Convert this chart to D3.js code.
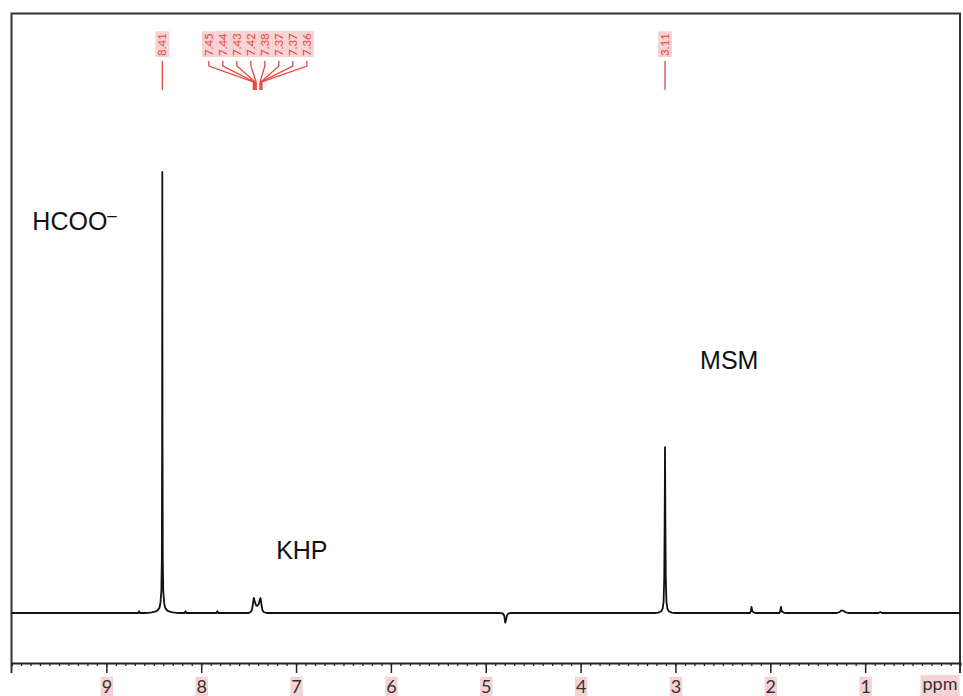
<!DOCTYPE html>
<html>
<head>
<meta charset="utf-8">
<script src="https://cdn.jsdelivr.net/npm/d3@7"></script>
<style>
  body { margin: 0; background: #fff; }
  svg { display: block; }
</style>
</head>
<body>
<svg id="chart" width="963" height="696"></svg>
<script>
// spectrum trace, [ppm, intensity] (8.41 peak = 100)
var spectrum = [
  [10, 0], [8.70, 0], [8.665, 0], [8.655, 0.4], [8.645, 0], [8.60, 0], [8.56, 0.05], [8.52, 0.15],
  [8.48, 0.35], [8.46, 0.6], [8.44, 1.2], [8.43, 2.2], [8.42, 5], [8.415, 12], [8.412, 40],
  [8.41, 100], [8.408, 40], [8.405, 12], [8.40, 5], [8.39, 2.2], [8.38, 1.2], [8.36, 0.6],
  [8.34, 0.35], [8.30, 0.15], [8.26, 0.05], [8.22, 0], [8.175, 0], [8.165, 0.4], [8.155, 0],
  [7.84, 0], [7.83, 0.4], [7.82, 0], [7.50, 0], [7.48, 0.2], [7.465, 0.7], [7.455, 2.0],
  [7.445, 3.4], [7.435, 2.6], [7.42, 1.7], [7.41, 1.6], [7.395, 1.9], [7.385, 2.8], [7.375, 3.4],
  [7.365, 2.0], [7.355, 0.7], [7.34, 0.2], [7.31, 0], [4.86, 0], [4.82, -0.1], [4.805, -0.6],
  [4.795, -2.2], [4.785, -1.4], [4.775, -0.5], [4.76, -0.1], [4.73, 0], [3.22, 0], [3.18, 0.1],
  [3.15, 0.4], [3.135, 1.0], [3.125, 2.5], [3.118, 8], [3.114, 20], [3.112, 28], [3.11, 37.6],
  [3.108, 28], [3.106, 20], [3.102, 8], [3.095, 2.5], [3.085, 1.0], [3.07, 0.4], [3.04, 0.1],
  [3.00, 0], [2.215, 0], [2.205, 0.4], [2.198, 1.4], [2.19, 0.4], [2.17, 0.1], [2.15, 0],
  [1.905, 0], [1.895, 0.4], [1.888, 1.4], [1.88, 0.4], [1.86, 0.1], [1.84, 0], [1.30, 0],
  [1.27, 0.2], [1.25, 0.6], [1.23, 0.5], [1.21, 0.2], [1.18, 0], [0.86, 0], [0.84, 0.2],
  [0.82, 0], [0, 0]
];

var xTicks = [9, 8, 7, 6, 5, 4, 3, 2, 1];
var singlePeaks = [8.41, 3.11];
var multiplet = [7.45, 7.44, 7.43, 7.42, 7.38, 7.37, 7.37, 7.36];

var annotations = [
  { text: "HCOO", sup: "–", ppm: 9.78, y: 86.8 },
  { text: "KHP", sup: "", ppm: 7.21, y: 12.2 },
  { text: "MSM", sup: "", ppm: 2.74, y: 55.3 }
];

var svg = d3.select("#chart");
var red = "#e8453c", pink = "#f5d3d5";

var x = d3.scaleLinear().domain([10, 0]).range([11.5, 960]);
var y = d3.scaleLinear().domain([0, 100]).range([613, 172]);
var axisY = 663;

// frame
svg.append("path")
  .attr("d", "M11.5," + (axisY + 10) + "V13.5H960V" + (axisY + 10))
  .attr("fill", "none").attr("stroke", "#333").attr("stroke-width", 2);

// bottom axis
var minor = d3.range(1, 100).map(function(d) { return d / 10; });
svg.append("g")
  .attr("transform", "translate(0," + axisY + ")")
  .call(d3.axisBottom(x).tickValues(minor).tickSize(3).tickFormat(""))
  .call(function(g) {
    g.select(".domain").attr("stroke", "#222").attr("stroke-width", 2);
    g.selectAll(".tick line").attr("stroke", "#222").attr("stroke-width", 1.3);
  });

var major = svg.append("g")
  .attr("transform", "translate(0," + axisY + ")")
  .call(d3.axisBottom(x).tickValues(xTicks).tickSize(10).tickPadding(7).tickFormat(d3.format("d")));
major.select(".domain").remove();
major.selectAll(".tick line").attr("stroke", "#222").attr("stroke-width", 1.5);
major.selectAll(".tick text")
  .attr("font-family", "Lato, 'DejaVu Sans', sans-serif")
  .attr("font-size", 18).attr("fill", "#333");
major.selectAll(".tick").each(function() {
  var t = d3.select(this).select("text");
  var b = t.node().getBBox();
  d3.select(this).insert("rect", "text")
    .attr("x", b.x - 1).attr("y", b.y + 2).attr("width", b.width + 2).attr("height", 40)
    .attr("fill", pink);
});

var ppm = svg.append("g");
ppm.append("text")
  .attr("x", 940).attr("y", 690).attr("text-anchor", "middle")
  .attr("font-family", "Lato, 'DejaVu Sans', sans-serif").attr("font-size", 18).attr("fill", "#333")
  .text("ppm");
var pb = ppm.select("text").node().getBBox();
ppm.insert("rect", "text")
  .attr("x", pb.x - 2).attr("y", pb.y + 3).attr("width", pb.width + 4).attr("height", 40)
  .attr("fill", pink);

// spectrum
var line = d3.line()
  .x(function(d) { return x(d[0]); })
  .y(function(d) { return y(d[1]); });

svg.append("path")
  .datum(spectrum)
  .attr("d", line)
  .attr("fill", "none").attr("stroke", "#111").attr("stroke-width", 1.8)
  .attr("stroke-linejoin", "round");

// peak labels
function peakLabel(lx, label) {
  var g = svg.append("g").attr("transform", "translate(" + lx + ",57) rotate(-90)");
  var t = g.append("text")
    .attr("x", 1).attr("y", 0).attr("dy", "0.36em")
    .attr("font-family", "Lato, 'DejaVu Sans', sans-serif").attr("font-size", 11.5)
    .attr("fill", red).text(label);
  var b = t.node().getBBox();
  g.insert("rect", "text")
    .attr("x", 0).attr("y", -7).attr("width", b.width + 3).attr("height", 14)
    .attr("fill", pink);
}

singlePeaks.forEach(function(p) {
  peakLabel(x(p), p.toFixed(2));
  svg.append("line")
    .attr("x1", x(p)).attr("x2", x(p)).attr("y1", 61).attr("y2", 90)
    .attr("stroke", red).attr("stroke-width", 1.3);
});

var mid = x(d3.mean(multiplet));
multiplet.forEach(function(p, i) {
  var lx = mid + (i - (multiplet.length - 1) / 2) * 14;
  peakLabel(lx, p.toFixed(2));
  svg.append("path")
    .attr("d", "M" + lx + ",61V66L" + x(p) + ",82V90")
    .attr("fill", "none").attr("stroke", red).attr("stroke-width", 1.3);
});

// compound names
annotations.forEach(function(a) {
  var t = svg.append("text")
    .attr("x", x(a.ppm)).attr("y", y(a.y))
    .attr("font-family", "'Liberation Sans', Arial, sans-serif").attr("font-size", 25)
    .attr("fill", "#111").text(a.text);
  if (a.sup) {
    t.append("tspan").attr("dy", -9).attr("font-size", 17).text(a.sup);
  }
});
</script>
</body>
</html>
